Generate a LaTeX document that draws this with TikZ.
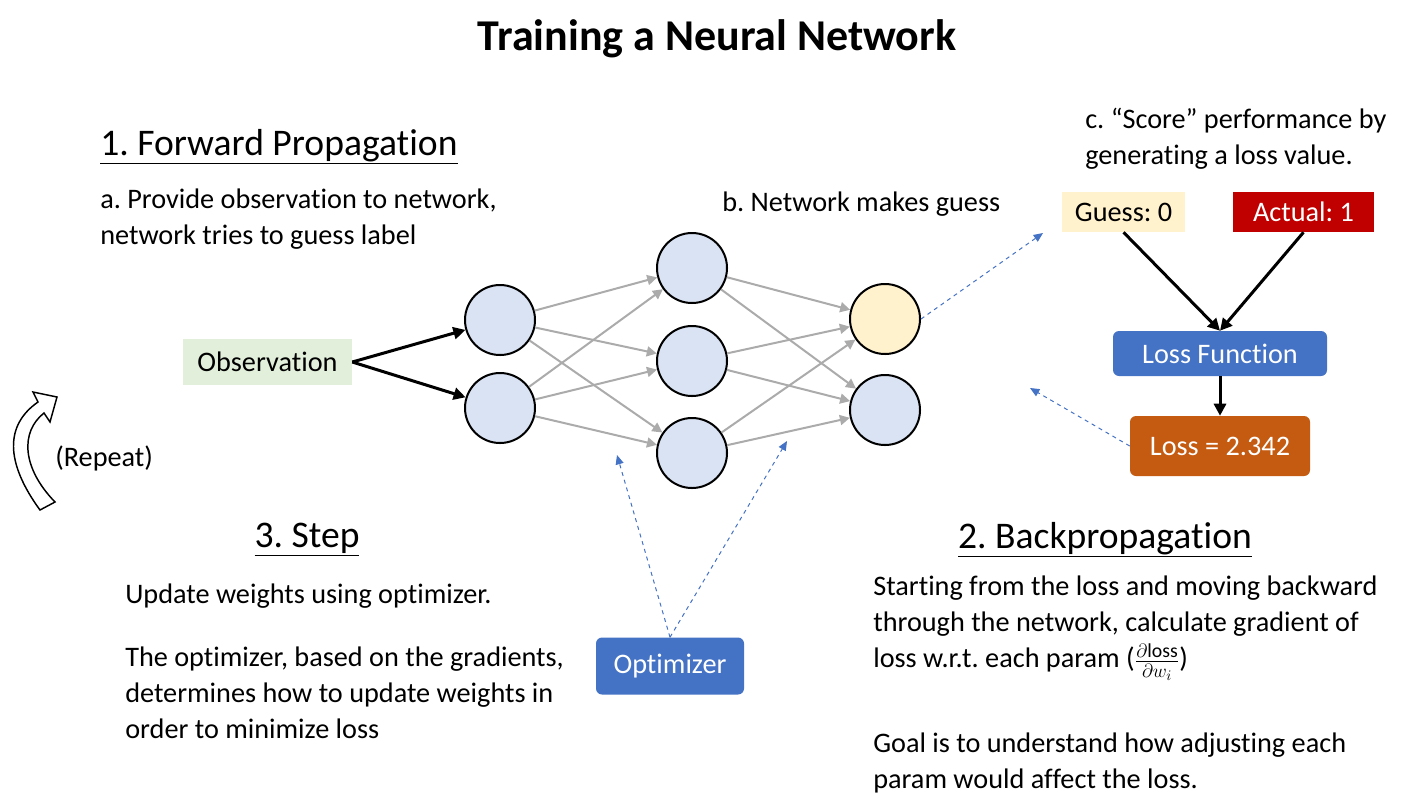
\documentclass[tikz,border=0pt]{standalone}
\usepackage{fontspec}
\setmainfont{Carlito}[Ligatures={NoCommon}]
\usetikzlibrary{arrows.meta}
\definecolor{neuronfill}{HTML}{DAE3F3}
\definecolor{guessfill}{HTML}{FFF2CC}
\definecolor{obsfill}{HTML}{E2EFDA}
\definecolor{actualred}{HTML}{C00000}
\definecolor{boxblue}{HTML}{4472C4}
\definecolor{lossorange}{HTML}{C55A11}
\definecolor{edgegray}{HTML}{ABABAB}
\frenchspacing
\begin{document}
\begin{tikzpicture}[x=0.75pt, y=-0.75pt,
    body/.style={font=\fontsize{21.2}{27}\selectfont, inner sep=0pt, align=left, anchor=north west},
    heading/.style={font=\fontsize{28.2}{33}\selectfont, inner sep=0pt, anchor=north},
    neuron/.style={circle, draw, line width=1.5pt, fill=neuronfill, minimum size=52.5pt, inner sep=0pt},
    flatbox/.style={font=\fontsize{21.2}{25}\selectfont, inner sep=0pt, minimum height=30pt},
    roundbox/.style={font=\fontsize{21.2}{25}\selectfont, text=white, fill=boxblue, rounded corners=4.5pt, inner sep=0pt},
    thick arrow/.style={line width=2.25pt, -{Triangle[length=9pt, width=9pt]}},
    weight/.style={draw=edgegray, line width=1.5pt, -{Triangle[length=7.5pt, width=7.5pt]}},
    grad/.style={draw=boxblue, line width=0.75pt, dashed, -{Triangle[length=7pt, width=6pt]}}]
    \useasboundingbox (0,0) rectangle (1408,801);

    % titles
    \node[font=\fontsize{33}{40}\selectfont\bfseries] (title) at (717,39) {Training a Neural Network};
    \node[heading, anchor=north west] (fwdhead) at (100,129) {\underline{1. Forward Propagation}};
    \node[heading] (stephead) at (307,523) {\underline{3. Step}};
    \node[heading] (backhead) at (1105,522) {\underline{2. Backpropagation}};

    % text
    \node[body] (texta) at (100,189) {a. Provide observation to network,\\network tries to guess label};
    \node[body] (textb) at (722,192) {b. Network makes guess};
    \node[body] (textc) at (1085,108) {c. “Score” performance by\\generating a loss value.};
    \node[body] (stepone) at (125,584) {Update weights using optimizer.};
    \node[body] (steptwo) at (125,647) {The optimizer, based on the gradients,\\determines how to update weights in\\order to minimize loss};
    \node[body] (backone) at (873,576) {Starting from the loss and moving backward\\through the network, calculate gradient of\\loss w.r.t. each param ($\frac{\partial\mathrm{loss}}{\partial w_i}$)};
    \node[body] (backtwo) at (873,733) {Goal is to understand how adjusting each\\param would affect the loss.};

    % network
    \node[flatbox, fill=obsfill, minimum width=126.75pt, minimum height=34.5pt] (obs) at (267.5,362) {Observation};
    \foreach \i/\y in {1/320, 2/408} {
        \node[neuron] (in\i) at (500,\y) {};
    };
    \foreach \i/\y in {1/268, 2/361, 3/453} {
        \node[neuron] (hid\i) at (692,\y) {};
    };
    \node[neuron, fill=guessfill] (out1) at (885,319) {};
    \node[neuron] (out2) at (885,410) {};
    \foreach \i in {1,2} {
        \draw[thick arrow] (obs.east) -- (in\i);
        \foreach \j in {1,2,3} {
            \draw[weight] (in\i) -- (hid\j);
            \draw[weight] (hid\j) -- (out\i);
        }
    };

    % loss
    \node[flatbox, fill=guessfill, minimum width=92.25pt] (guess) at (1123.5,212) {Guess: 0};
    \node[flatbox, fill=actualred, text=white, minimum width=105.75pt] (actual) at (1303.5,212) {Actual: 1};
    \node[roundbox, minimum width=160.5pt, minimum height=33.75pt] (lossfn) at (1220,353.5) {Loss Function};
    \node[roundbox, fill=lossorange, minimum width=135pt, minimum height=45pt] (loss) at (1220,446) {Loss = 2.342};
    \draw[thick arrow] (guess.south) -- (lossfn.north);
    \draw[thick arrow] (actual.south) -- (lossfn.north);
    \draw[thick arrow] (lossfn) -- (loss);

    % optimizer
    \node[roundbox, minimum width=111pt, minimum height=42.75pt] (opt) at (670,666) {Optimizer};
    \coordinate (guesstip) at (1043,233);
    \coordinate (losstip) at (1030,388);
    \coordinate (opttipa) at (617,455);
    \coordinate (opttipb) at (787,441);
    \draw[grad] (out1.east) -- (guesstip);
    \draw[grad] (loss.west) -- (losstip);
    \draw[grad] (opt.north) -- (opttipa);
    \draw[grad] (opt.north) -- (opttipb);

    % repeat
    \filldraw[fill=white, line width=1.1pt, line join=miter] (40,510) .. controls (5,462) and (5,425) .. (38,402) -- (33,392) -- (57,397) -- (50,422) -- (44,413) .. controls (20,432) and (22,468) .. (55,502) -- cycle;
    \node[font=\fontsize{21.2}{25}\selectfont, anchor=west, inner sep=0pt] (repeat) at (55,458) {(Repeat)};
\end{tikzpicture}
\end{document}
